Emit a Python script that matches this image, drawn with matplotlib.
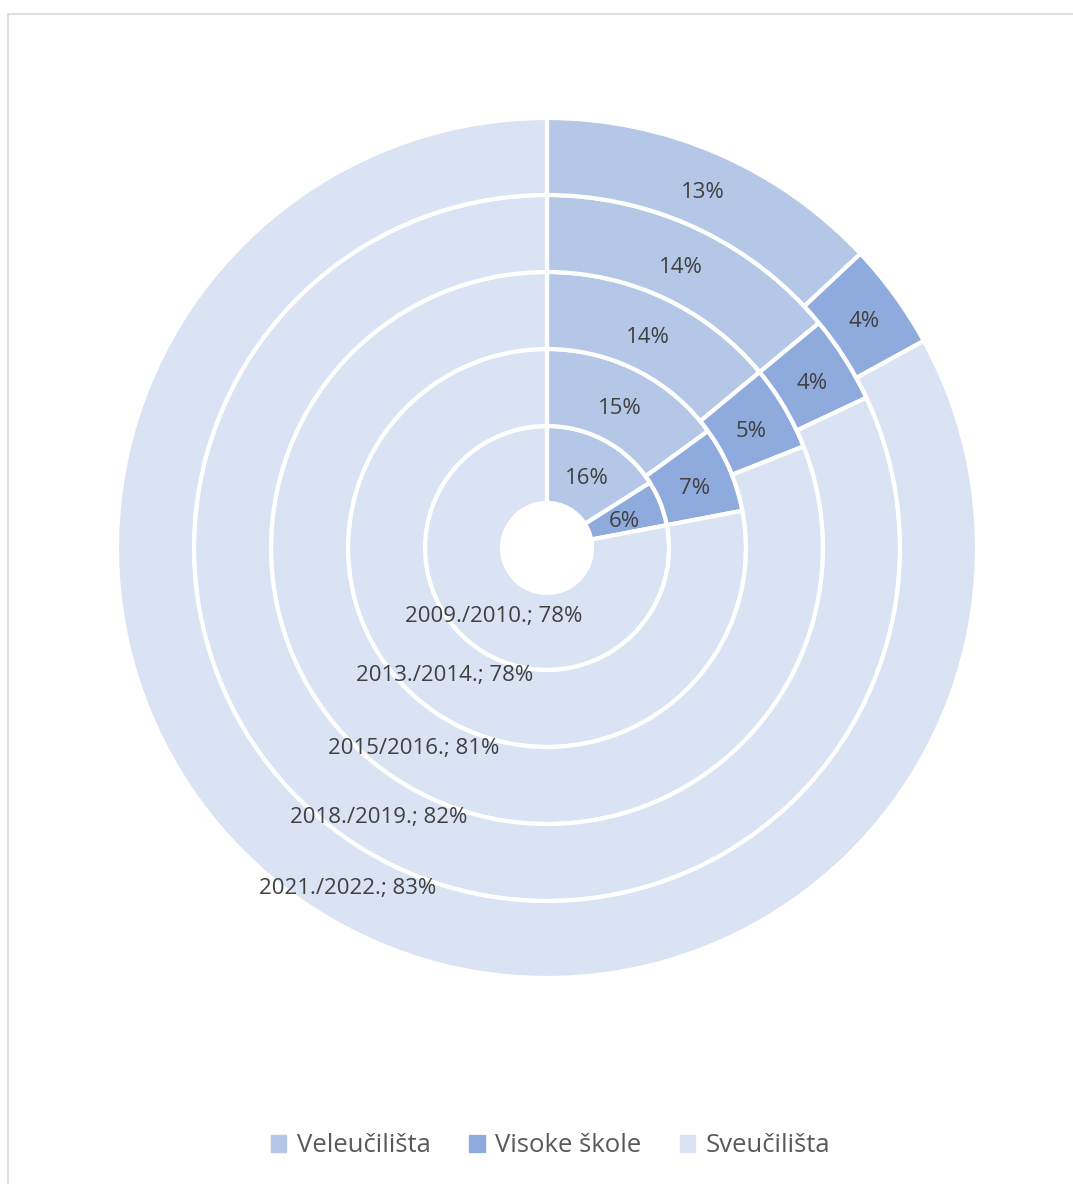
import numpy as np
import matplotlib.pyplot as plt
from matplotlib.patches import Rectangle

plt.rcParams['font.family'] = ['Open Sans', 'DejaVu Sans']

years = ['2009./2010.', '2013./2014.', '2015/2016.', '2018./2019.', '2021./2022.']
veleucilista = [16, 15, 14, 14, 13]
visoke_skole = [6, 7, 5, 4, 4]
sveucilista = [78, 78, 81, 82, 83]
series = ['Veleučilišta', 'Visoke škole', 'Sveučilišta']
colors = ['#B4C7E7', '#8FAADC', '#DAE3F3']
txt = '#404040'

W, H = 1073, 1184
fig = plt.figure(figsize=(W / 100, H / 100), dpi=100)

# light frame like the spreadsheet chart area
fig.patches.append(Rectangle((8 / W, -0.01), 1.1, 1 - 14 / H + 0.01, transform=fig.transFigure,
                             fill=False, edgecolor='#D9D9D9', linewidth=1.2))

cx, cy, R = 547, 548, 430
ax = fig.add_axes([(cx - R) / W, (H - cy - R) / H, 2 * R / W, 2 * R / H])

hole = 45 / R
width = 77 / R
dy = -4 / R  # labels sit a little below the geometric middle

for i, yr in enumerate(years):
    vals = [veleucilista[i], visoke_skole[i], sveucilista[i]]
    rout = hole + width * (i + 1)
    wedges, _ = ax.pie(vals, radius=rout, colors=colors, startangle=90, counterclock=False,
                       wedgeprops=dict(width=width, edgecolor='white', linewidth=3))
    rmid = rout - width / 2
    for j, w in enumerate(wedges):
        ang = np.deg2rad((w.theta1 + w.theta2) / 2)
        x, y = rmid * np.cos(ang), rmid * np.sin(ang) + dy
        if j == 2:
            lab = f'{yr}; {vals[j]}%'
        else:
            lab = f'{vals[j]}%'
        ax.text(x, y, lab, ha='center', va='center', fontsize=16, color=txt)

ax.set_xlim(-1, 1)
ax.set_ylim(-1, 1)
ax.set_aspect('equal')
ax.axis('off')

handles = [Rectangle((0, 0), 1, 1, color=c) for c in colors]
fig.legend(handles, series, loc='center', bbox_to_anchor=(0.513, 1 - 1146 / H), ncol=3,
           frameon=False, fontsize=18.5, labelcolor='#595959', handlelength=0.6, handleheight=0.6,
           handletextpad=0.4, columnspacing=1.5)

fig.savefig('out.png', dpi=100)
